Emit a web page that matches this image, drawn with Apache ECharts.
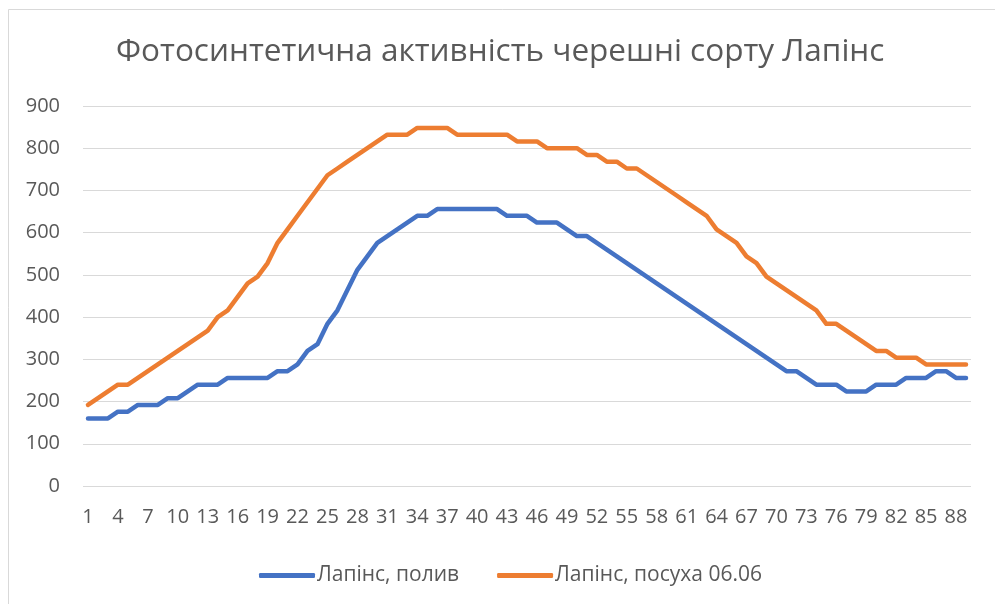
<!DOCTYPE html>
<html><head><meta charset="utf-8">
<script src="https://cdn.jsdelivr.net/npm/echarts@6/dist/echarts.min.js"></script>
<style>html,body{margin:0;padding:0;background:#fff}#c{width:995px;height:604px}</style>
</head><body><div id="c"></div>
<script>
const titleText = 'Фотосинтетична активність черешні сорту Лапінс';
const seriesNames = ['Лапінс, полив', 'Лапінс, посуха 06.06'];
const categories = [];
for (let i = 1; i <= 89; i++) categories.push(String(i));
const yTicks = [0, 100, 200, 300, 400, 500, 600, 700, 800, 900];

const polyv = [
  160,160,160,176,176,192,192,192,208,208,224,240,240,240,256,256,256,256,256,272,272,288,320,336,384,416,464,512,544,576,
  592,608,624,640,640,656,656,656,656,656,656,656,640,640,640,624,624,624,608,592,592,
  576,560,544,528,512,496,480,464,448,432,416,400,384,368,352,336,320,304,288,272,
  272,256,240,240,240,224,224,224,240,240,240,256,256,256,272,272,256,256
];
const posukha = [
  192,208,224,240,240,256,272,288,304,320,336,352,368,400,416,448,480,496,528,576,608,640,672,704,736,752,768,784,800,816,
  832,832,832,848,848,848,848,832,832,832,832,832,832,816,816,816,800,800,800,800,784,784,768,768,752,752,736,720,704,
  688,672,656,640,608,592,576,544,528,496,480,464,448,432,416,384,384,368,352,336,320,320,304,304,304,288,288,288,288,288
];

const FONT = '"Open Sans", "Noto Sans", sans-serif';
const chart = echarts.init(document.getElementById('c'));
chart.setOption({
  animation: false,
  backgroundColor: '#ffffff',
  graphic: [{
    type: 'rect', left: 6, top: 7, shape: { x: 0, y: 0, width: 1000, height: 610 },
    style: { fill: 'none', stroke: '#d9d9d9', lineWidth: 1 }, silent: true, z: -1
  }],
  title: {
    text: titleText, left: 116, top: 36, padding: 0,
    textStyle: { fontFamily: FONT, fontSize: 31.5, fontWeight: 'normal', color: '#595959' }
  },
  legend: {
    bottom: 18, left: 259, itemWidth: 56, itemHeight: 5, itemGap: 38,
    icon: 'roundRect', padding: 0,
    textStyle: { fontFamily: FONT, fontSize: 21, color: '#595959', padding: [0, 0, 0, -3] },
    data: seriesNames
  },
  grid: { left: 83, right: 24, top: 106, bottom: 118, containLabel: false },
  xAxis: {
    type: 'category', data: categories, boundaryGap: true,
    axisLine: { show: false }, axisTick: { show: false },
    axisLabel: { interval: 2, margin: 21, fontFamily: FONT, fontSize: 20, color: '#595959' }
  },
  yAxis: {
    type: 'value', min: yTicks[0], max: yTicks[yTicks.length - 1], interval: 100,
    axisLine: { show: false }, axisTick: { show: false },
    axisLabel: { margin: 23, fontFamily: FONT, fontSize: 20, color: '#595959' },
    splitLine: { lineStyle: { color: '#d9d9d9', width: 1 } }
  },
  series: [
    { name: seriesNames[0], type: 'line', data: polyv, showSymbol: false, symbol: 'none',
      color: '#4472C4', lineStyle: { width: 4.5, color: '#4472C4', cap: 'round', join: 'round' } },
    { name: seriesNames[1], type: 'line', data: posukha, showSymbol: false, symbol: 'none',
      color: '#ED7D31', lineStyle: { width: 4.5, color: '#ED7D31', cap: 'round', join: 'round' } }
  ]
});
</script></body></html>
